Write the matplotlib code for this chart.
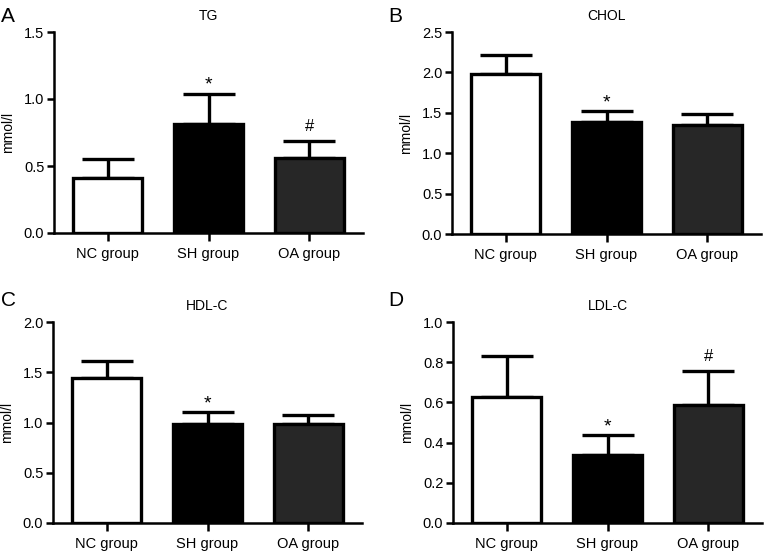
import numpy as np
import matplotlib
matplotlib.use('Agg')
import matplotlib.pyplot as plt

plt.rcParams['font.family'] = ['Liberation Sans', 'DejaVu Sans']

groups = ['NC group', 'SH group', 'OA group']
bar_colors = ['white', 'black', '#272727']

# mean and upper error (mmol/l)
tg_mean = [0.41, 0.81, 0.56]
tg_err = [0.14, 0.23, 0.13]
tg_marks = ['', '*', '#']

chol_mean = [1.98, 1.39, 1.35]
chol_err = [0.23, 0.13, 0.135]
chol_marks = ['', '*', '']

hdl_mean = [1.44, 0.99, 0.985]
hdl_err = [0.175, 0.11, 0.085]
hdl_marks = ['', '*', '']

ldl_mean = [0.625, 0.336, 0.587]
ldl_err = [0.205, 0.10, 0.17]
ldl_marks = ['', '*', '#']

panels = [
    ('A', 'TG', tg_mean, tg_err, tg_marks, 1.5, [0.0, 0.5, 1.0, 1.5]),
    ('B', 'CHOL', chol_mean, chol_err, chol_marks, 2.5, [0.0, 0.5, 1.0, 1.5, 2.0, 2.5]),
    ('C', 'HDL-C', hdl_mean, hdl_err, hdl_marks, 2.0, [0.0, 0.5, 1.0, 1.5, 2.0]),
    ('D', 'LDL-C', ldl_mean, ldl_err, ldl_marks, 1.0, [0.0, 0.2, 0.4, 0.6, 0.8, 1.0]),
]

W, H = 765, 555
# axes boxes in pixels: left, top, right, bottom
boxes = [(54, 32, 363, 233), (452, 32, 761, 234),
         (53, 322, 362, 523), (453, 322, 762, 523)]
letter_pos = [(1, 16), (388, 16), (1, 301), (388, 301)]

fig = plt.figure(figsize=(W / 100, H / 100), dpi=100)
x = np.arange(len(groups))

for (letter, title, mean, err, marks, ymax, yticks), (l, t, r, b), (lx, ly) in zip(panels, boxes, letter_pos):
    ax = fig.add_axes([l / W, (H - b) / H, (r - l) / W, (b - t) / H])
    ax.errorbar(x, mean, yerr=[np.zeros(3), err], fmt='none', ecolor='black',
                elinewidth=2.4, capsize=19, capthick=2.4, zorder=1)
    ax.bar(x, mean, width=0.69, color=bar_colors, edgecolor='black',
           linewidth=2.4, zorder=2)
    for xi, m, e, s in zip(x, mean, err, marks):
        if s == '*':
            ax.annotate(s, (xi, m + e), xytext=(0, 0), textcoords='offset points',
                        ha='center', va='bottom', fontsize=14)
        elif s:
            ax.annotate(s, (xi, m + e), xytext=(0, 5), textcoords='offset points',
                        ha='center', va='bottom', fontsize=12)
    ax.set_xlim(-0.53, 2.53)
    ax.set_ylim(0, ymax)
    ax.set_yticks(yticks)
    ax.set_yticklabels(['%.1f' % v for v in yticks])
    ax.set_xticks(x)
    ax.set_xticklabels(groups)
    for side in ['top', 'right']:
        ax.spines[side].set_visible(False)
    for side in ['left', 'bottom']:
        ax.spines[side].set_linewidth(1.8)
    ax.tick_params(axis='both', width=1.8, length=5, labelsize=10.5, direction='out')
    ax.tick_params(axis='y', pad=2)
    ax.tick_params(axis='x', length=6, pad=4)
    ax.set_ylabel('mmol/l', fontsize=10, labelpad=6)
    ax.set_title(title, fontsize=10, pad=9)
    fig.text(lx / W, 1 - ly / H, letter, fontsize=15, ha='left', va='center')

fig.savefig('out.png', dpi=100)
